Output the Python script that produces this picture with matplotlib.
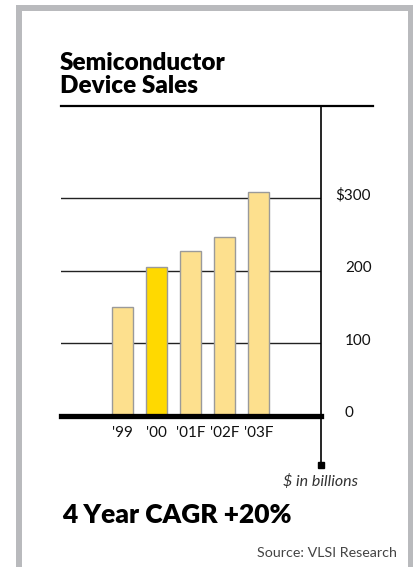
import matplotlib
matplotlib.use("Agg")
import matplotlib.pyplot as plt
from matplotlib.patches import Rectangle
from matplotlib.transforms import blended_transform_factory

years = ["'99", "'00", "'01F", "'02F", "'03F"]
sales = [150, 205, 228, 246, 309]
highlight = "'00"
y_ticks = [0, 100, 200, 300]
y_labels = ["0", "100", "200", "$300"]

W, H = 414, 567
plt.rcParams["font.family"] = ["Lato", "DejaVu Sans"]

fig = plt.figure(figsize=(W / 100, H / 100), dpi=100)
fig.patch.set_facecolor("white")


def fx(px):
    return px / W


def fy(py):
    return 1 - py / H


# grey frame, open at the bottom
frame = "#b9babd"
for x0, y0, x1, y1 in [(16, 5, 22, H), (16, 5, W, 11), (408, 5, W, H)]:
    fig.patches.append(Rectangle((fx(x0), fy(y1)), fx(x1) - fx(x0), fy(y0) - fy(y1),
                                 transform=fig.transFigure, color=frame, lw=0))

# plot area: x from 61 to 321 px, y from 106 (top rule) to 416 (baseline)
ax = fig.add_axes([fx(61), fy(416), fx(321) - fx(61), fy(106) - fy(416)])
slot = 34.0
x0 = -(122.5 - 61) / slot
ax.set_xlim(x0, x0 + 260 / slot)
ax.set_ylim(0, 310 / 0.7257)

colors = ["#ffd900" if y == highlight else "#fde08e" for y in years]
ax.bar(range(len(years)), sales, width=21 / slot, color=colors,
       edgecolor="#9a9a9a", linewidth=1.0, zorder=3)

for t in y_ticks[1:]:
    ax.axhline(t, color="#222222", lw=1.0, zorder=1)

for s in ax.spines.values():
    s.set_visible(False)
ax.axhline(0, color="black", lw=3.8, zorder=4, clip_on=False)
# top rule runs past the vertical axis
ax.axhline(ax.get_ylim()[1], xmin=0, xmax=(373 - 61) / 260, color="black",
           lw=1.6, clip_on=False)
# vertical axis line dropping below the baseline, ending in a square
ax.axvline(ax.get_xlim()[1], ymin=-(465 - 416) / 310, ymax=1, color="black",
           lw=1.2, clip_on=False)
ax.plot([ax.get_xlim()[1]], [-(465 - 416) / 0.7257], marker="s", ms=4.5,
        color="black", clip_on=False)

ax.set_xticks([])
ax.set_yticks([])
for i, lab in enumerate(years):
    ax.text(i, -(433 - 416) / 0.7257, lab, ha="center", va="center",
            fontsize=11, color="#111111")

tr = blended_transform_factory(fig.transFigure, ax.transData)
for t, lab in zip(y_ticks, y_labels):
    ax.text(fx(335 if lab.startswith("$") else 345), t + 4, lab, transform=tr,
            ha="left", va="center", fontsize=11, color="#111111")

fig.text(fx(60), fy(93), "Semiconductor\nDevice Sales", ha="left", va="baseline",
         fontsize=17.5, fontweight="heavy", linespacing=1.05)
fig.text(fx(321), fy(482), "$ in billions", ha="center", va="center",
         fontsize=11.5, style="italic", color="#333333")
fig.text(fx(62), fy(515), "4 Year CAGR +20%", ha="left", va="center",
         fontsize=19, fontweight="heavy")
fig.text(fx(397), fy(553), "Source: VLSI Research", ha="right", va="center",
         fontsize=10.3, color="#444444")

fig.savefig("out.png", dpi=100)
